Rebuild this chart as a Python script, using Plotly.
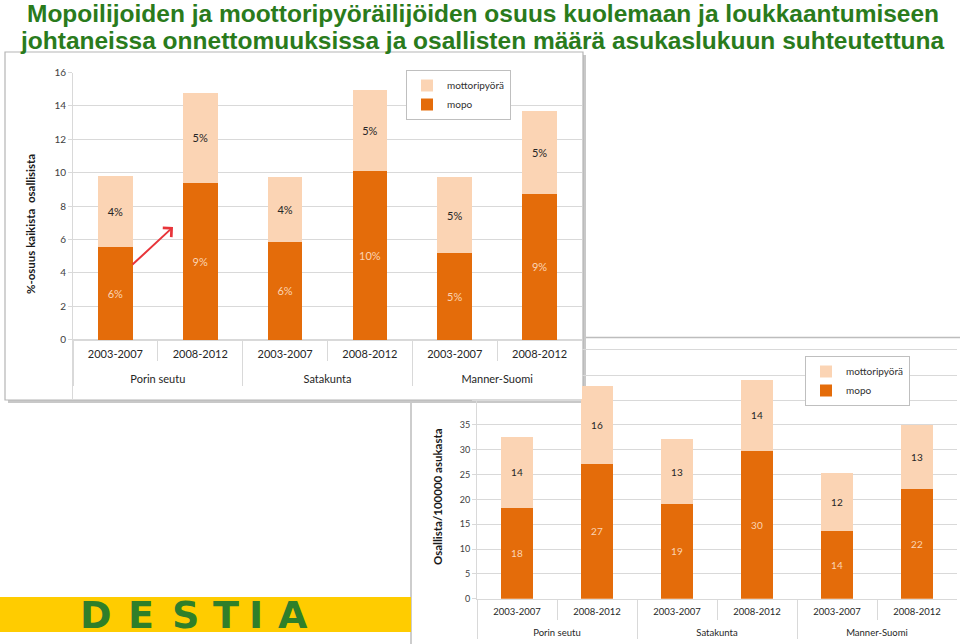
import plotly.graph_objects as go

W, H = 960, 644

# ---------------- data ----------------
regions = ["Porin seutu", "Satakunta", "Manner-Suomi"]
periods = ["2003-2007", "2008-2012"]
series_names = ["mopo", "mottoripyörä"]

# chart 1: share of all parties (%)
share_mopo = [5.53, 9.40, 5.83, 10.12, 5.20, 8.72]
share_moto = [4.25, 5.37, 3.93, 4.81, 4.52, 4.99]
share_ticks = [0, 2, 4, 6, 8, 10, 12, 14, 16]

# chart 2: parties per 100000 inhabitants
rate_mopo = [18.3, 27.2, 19.1, 29.8, 13.6, 22.1]
rate_moto = [14.3, 15.6, 13.0, 14.2, 11.8, 12.8]
rate_ticks = [0, 5, 10, 15, 20, 25, 30, 35, 40, 45, 50]
# 40, 45 and 50 lie behind chart 1 in the original slide
rate_ticktext = ["0", "5", "10", "15", "20", "25", "30", "35", "", "", ""]

title_lines = [
    "Mopoilijoiden ja moottoripyöräilijöiden osuus kuolemaan ja loukkaantumiseen",
    "johtaneissa onnettomuuksissa ja osallisten määrä asukaslukuun suhteutettuna",
]
y_titles = ["%-osuus kaikista  osallisista", "Osallista/100000 asukasta"]
logo_text = "DESTIA"

# ---------------- styles ----------------
MOPO = "#E46C0A"
MOTO = "#FBD4B4"
GRID = "#D9D9D9"
TXT = "#404040"
FONT = "Lato"
TITLE_GREEN = "#2A7B1C"


def px(x):
    return x / W


def py(y):
    return 1 - y / H


# outer (region) level is set one line lower, as in the original Excel charts
x_groups = ["<br>" + r for r in regions for _ in periods]
x_periods = [p for _ in regions for p in periods]
x_multi = [x_groups, x_periods]

fig = go.Figure()

# ---- chart 2 (x2y2, drawn first / underneath) ----
fig.add_trace(go.Bar(x=x_multi, y=rate_mopo, name=series_names[0], marker_color=MOPO,
                     width=0.4, texttemplate="%{y:.0f}", textposition="inside",
                     insidetextanchor="middle", textangle=0,
                     textfont=dict(color=MOTO, size=10, family=FONT),
                     xaxis="x2", yaxis="y2", legend="legend2"))
fig.add_trace(go.Bar(x=x_multi, y=rate_moto, name=series_names[1], marker_color=MOTO,
                     width=0.4, texttemplate="%{y:.0f}", textposition="inside",
                     insidetextanchor="middle", textangle=0,
                     textfont=dict(color="#262626", size=10, family=FONT),
                     xaxis="x2", yaxis="y2", legend="legend2"))

# ---- chart 1 (x3y3, on top) ----
fig.add_trace(go.Bar(x=x_multi, y=share_mopo, name=series_names[0], marker_color=MOPO,
                     width=0.41, texttemplate="%{y:.0f}%", textposition="inside",
                     insidetextanchor="middle", textangle=0,
                     textfont=dict(color=MOTO, size=11, family=FONT),
                     xaxis="x3", yaxis="y3", legend="legend"))
fig.add_trace(go.Bar(x=x_multi, y=share_moto, name=series_names[1], marker_color=MOTO,
                     width=0.41, texttemplate="%{y:.0f}%", textposition="inside",
                     insidetextanchor="middle", textangle=0,
                     textfont=dict(color="#262626", size=11, family=FONT),
                     xaxis="x3", yaxis="y3", legend="legend"))


def cat_axis(domain, fsize, **kw):
    d = dict(domain=domain, type="multicategory", range=[-0.5, 5.5],
             showline=True, linecolor=GRID, linewidth=1, ticks="outside", ticklen=20,
             tickcolor=GRID, tickson="boundaries", showdividers=True, dividercolor=GRID,
             dividerwidth=1, showgrid=False, zeroline=False, ticklabelstandoff=4,
             tickfont=dict(family=FONT, size=fsize, color="#262626"), fixedrange=True)
    d.update(kw)
    return d


def val_axis(domain, anchor, rng, ticks, ticktext, fsize):
    return dict(domain=domain, anchor=anchor, range=rng, tickvals=ticks, ticktext=ticktext,
                showgrid=True, gridcolor=GRID, gridwidth=1, showline=True, linecolor=GRID,
                zeroline=False, ticks="outside", ticklen=4, tickcolor=GRID,
                tickfont=dict(family=FONT, size=fsize, color=TXT), fixedrange=True)


# chart 2 geometry (pixels)
c2_left, c2_right = 477.0, 957.0
c2_zero, c2_forty = 598.7, 400.0
c2_unit = (c2_zero - c2_forty) / 40.0
c2_top = c2_zero - 50 * c2_unit

# chart 1 geometry (pixels); its plot area reaches down to the frame so that it
# hides the part of chart 2 lying behind it
c1_zero, c1_sixteen, c1_bottom = 339.5, 72.5, 399.0
c1_unit = (c1_zero - c1_sixteen) / 16.0

fig.update_layout(
    width=W, height=H, autosize=False, template="none",
    margin=dict(l=0, r=0, t=0, b=0, pad=0),
    paper_bgcolor="white", plot_bgcolor="white",
    barmode="stack", showlegend=True,
    # chart 2
    xaxis2=cat_axis([px(c2_left), px(c2_right)], 9.5, anchor="y2", mirror=True),
    yaxis2=val_axis([py(c2_zero), py(c2_top)], "x2", [0, 50], rate_ticks, rate_ticktext, 9),
    # chart 1
    xaxis3=cat_axis([px(73), px(582)], 11, anchor="free", position=py(c1_zero)),
    yaxis3=val_axis([py(c1_bottom), py(c1_sixteen)], "x3",
                    [-(c1_bottom - c1_zero) / c1_unit, 16], share_ticks,
                    [str(t) for t in share_ticks], 10),
    legend=dict(x=px(406), y=py(70), xanchor="left", yanchor="top", bgcolor="white",
                bordercolor="#BFBFBF", borderwidth=1, traceorder="reversed",
                font=dict(family=FONT, size=10, color="#303030"), itemwidth=30,
                itemclick=False, itemdoubleclick=False),
    legend2=dict(x=px(805), y=py(356), xanchor="left", yanchor="top", bgcolor="white",
                 bordercolor="#BFBFBF", borderwidth=1, traceorder="reversed",
                 font=dict(family=FONT, size=10, color="#303030"), itemwidth=30,
                 itemclick=False, itemdoubleclick=False),
)

shapes = [
    # chart 2 frame
    dict(type="rect", xref="paper", yref="paper", x0=px(411), x1=px(963), y0=py(648),
         y1=py(337.5), line=dict(color="#BDBDBD", width=1.5), fillcolor="white", layer="below"),
    # chart 1 drop shadow
    dict(type="rect", xref="paper", yref="paper", x0=px(8), x1=px(586), y0=py(403),
         y1=py(55), line=dict(width=0), fillcolor="#C8C8C8", layer="below"),
    # chart 1 frame
    dict(type="rect", xref="paper", yref="paper", x0=px(5), x1=px(583), y0=py(400),
         y1=py(52), line=dict(color="#B5B5B5", width=1.2), fillcolor="white", layer="below"),
    # logo band
    dict(type="rect", xref="paper", yref="paper", x0=0, x1=px(411), y0=py(632),
         y1=py(597), line=dict(width=0), fillcolor="#FFCC00", layer="below"),
]
fig.update_layout(shapes=shapes)

annotations = [
    dict(text=title_lines[0], x=px(483), y=py(13), xref="paper", yref="paper",
         showarrow=False, xanchor="center", yanchor="middle",
         font=dict(family="Liberation Sans", size=24.5, color=TITLE_GREEN, weight="bold")),
    dict(text=title_lines[1], x=px(482), y=py(40.5), xref="paper", yref="paper",
         showarrow=False, xanchor="center", yanchor="middle",
         font=dict(family="Liberation Sans", size=24.5, color=TITLE_GREEN, weight="bold")),
    # value-axis titles
    dict(text="<b>" + y_titles[0] + "</b>", x=px(30), y=py(224), xref="paper", yref="paper",
         showarrow=False, xanchor="center", yanchor="middle", textangle=-90,
         font=dict(family=FONT, size=11.5, color="#1a1a1a")),
    dict(text="<b>" + y_titles[1] + "</b>", x=px(437), y=py(497), xref="paper", yref="paper",
         showarrow=False, xanchor="center", yanchor="middle", textangle=-90,
         font=dict(family=FONT, size=11.5, color="#1a1a1a")),
    # red arrow
    dict(text="", x=px(173), y=py(227), xref="paper", yref="paper", showarrow=True,
         ax=-42, ay=39, arrowhead=4, arrowsize=1.2, arrowwidth=2, arrowcolor="#E8353A",
         standoff=0, startstandoff=0),
]
letter_centers = [96, 141, 185, 226, 256, 293]
for ch, cx in zip(logo_text, letter_centers):
    annotations.append(dict(text="<b>" + ch + "</b>", x=px(cx), y=py(614.5), xref="paper",
                            yref="paper", showarrow=False, xanchor="center", yanchor="middle",
                            font=dict(family="DejaVu Sans", size=38, color="#2F7F2A")))
fig.update_layout(annotations=annotations)

fig.write_html("out.html")
